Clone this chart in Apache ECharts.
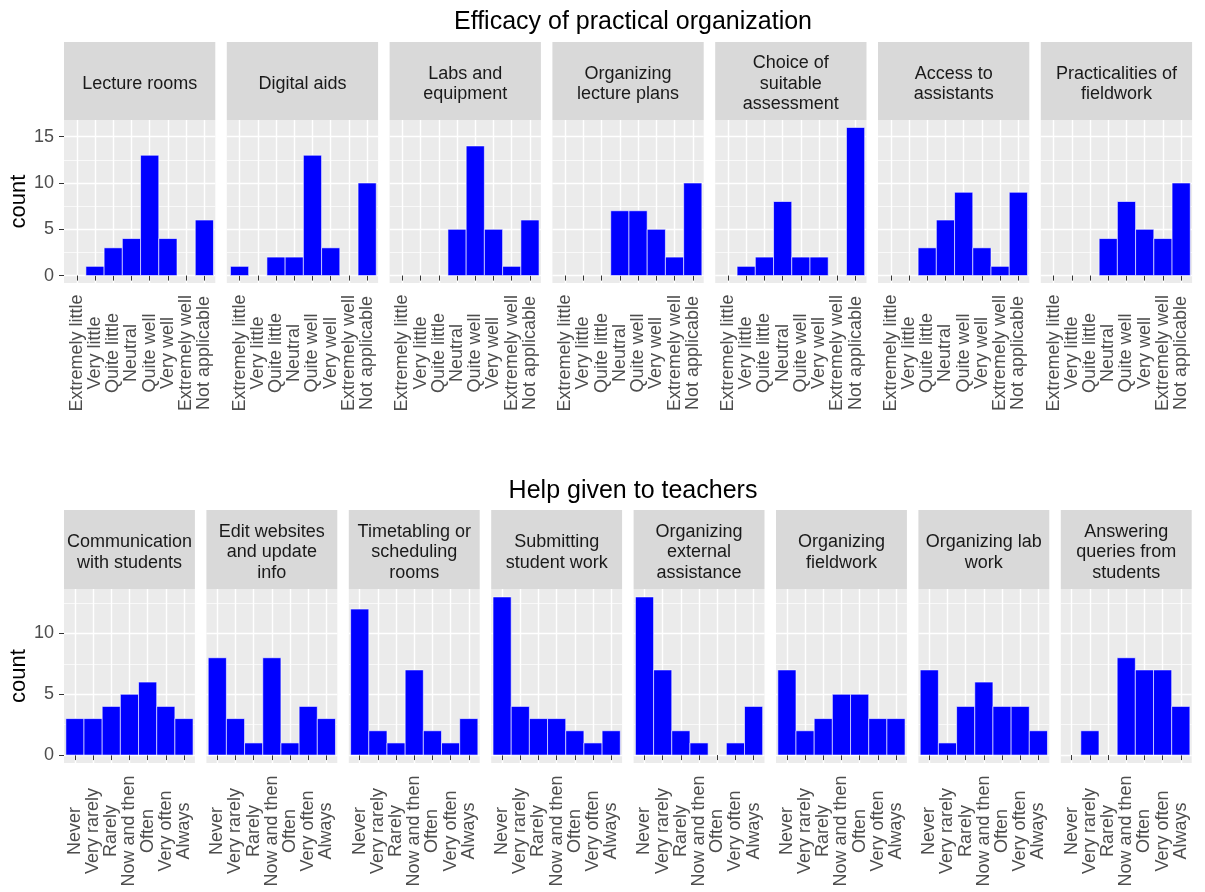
<!DOCTYPE html>
<html>
<head>
<meta charset="utf-8">
<script src="https://cdn.jsdelivr.net/npm/echarts@6/dist/echarts.min.js"></script>
<style>
html,body{margin:0;padding:0;background:#ffffff;}
#chart{width:1205px;height:892px;}
</style>
</head>
<body>
<div id="chart"></div>
<script>
// ---------- data ----------
const efficacyLevels = ['Extremely little', 'Very little', 'Quite little', 'Neutral', 'Quite well', 'Very well', 'Extremely well', 'Not applicable'];
const frequencyLevels = ['Never', 'Very rarely', 'Rarely', 'Now and then', 'Often', 'Very often', 'Always'];

const efficacyTopics = ['Lecture rooms', 'Digital aids', 'Labs and\nequipment', 'Organizing\nlecture plans', 'Choice of\nsuitable\nassessment', 'Access to\nassistants', 'Practicalities of\nfieldwork'];
const helpTopics = ['Communication\nwith students', 'Edit websites\nand update\ninfo', 'Timetabling or\nscheduling\nrooms', 'Submitting\nstudent work', 'Organizing\nexternal\nassistance', 'Organizing\nfieldwork', 'Organizing lab\nwork', 'Answering\nqueries from\nstudents'];

const lectureRooms = [0, 1, 3, 4, 13, 4, 0, 6];
const digitalAids = [1, 0, 2, 2, 13, 3, 0, 10];
const labsEquipment = [0, 0, 0, 5, 14, 5, 1, 6];
const lecturePlans = [0, 0, 0, 7, 7, 5, 2, 10];
const suitableAssessment = [0, 1, 2, 8, 2, 2, 0, 16];
const accessAssistants = [0, 0, 3, 6, 9, 3, 1, 9];
const fieldworkPracticalities = [0, 0, 0, 4, 8, 5, 4, 10];

const communicationStudents = [3, 3, 4, 5, 6, 4, 3];
const editWebsites = [8, 3, 1, 8, 1, 4, 3];
const timetabling = [12, 2, 1, 7, 2, 1, 3];
const submittingWork = [13, 4, 3, 3, 2, 1, 2];
const externalAssistance = [13, 7, 2, 1, 0, 1, 4];
const organizingFieldwork = [7, 2, 3, 5, 5, 3, 3];
const organizingLabWork = [7, 1, 4, 6, 4, 4, 2];
const answeringQueries = [0, 2, 0, 8, 7, 7, 4];

const efficacyTicks = [0, 5, 10, 15];
const helpTicks = [0, 5, 10];
const minorTicks = [2.5, 7.5, 12.5];

// ---------- layout ----------
const FONT = '"Liberation Sans", Arial, sans-serif';
const rows = [
  {
    title: 'Efficacy of practical organization', titleY: 5,
    topics: efficacyTopics,
    values: [lectureRooms, digitalAids, labsEquipment, lecturePlans, suitableAssessment, accessAssistants, fieldworkPracticalities],
    levels: efficacyLevels, yTicks: efficacyTicks,
    yMin: -0.8, yMax: 16.8, xMin: 0.3, xMax: 8.6,
    stripTop: 42, panelTop: 120, panelBottom: 283,
    left: 64, width: 151.3, step: 162.8, labelMargin: 70
  },
  {
    title: 'Help given to teachers', titleY: 474,
    topics: helpTopics,
    values: [communicationStudents, editWebsites, timetabling, submittingWork, externalAssistance, organizingFieldwork, organizingLabWork, answeringQueries],
    levels: frequencyLevels, yTicks: helpTicks,
    yMin: -0.65, yMax: 13.65, xMin: 0.4, xMax: 7.6,
    stripTop: 510, panelTop: 589, panelBottom: 763,
    left: 64, width: 130.9, step: 142.4, labelMargin: 68
  }
];

const grid = [], xAxis = [], yAxis = [], series = [], graphic = [], title = [];

function renderBar(params, api) {
  const x = api.value(0), y = api.value(1);
  if (!y) return null;
  const p0 = api.coord([x - 0.5, 0]);
  const p1 = api.coord([x + 0.5, y]);
  return {
    type: 'rect',
    shape: { x: p0[0], y: p1[1], width: p1[0] - p0[0], height: p0[1] - p1[1] },
    style: { fill: '#0000FF', stroke: '#FFFFFF', lineWidth: 0.6 }
  };
}

rows.forEach((row) => {
  const ticks = row.levels.map((_, i) => i + 1);
  title.push({
    text: row.title, left: 628, top: row.titleY, textAlign: 'center',
    textStyle: { fontFamily: FONT, fontSize: 25, fontWeight: 'normal', color: '#000000' }
  });
  row.values.forEach((vals, p) => {
    const gi = grid.length;
    const left = row.left + p * row.step;
    grid.push({
      left: left, top: row.panelTop, width: row.width, height: row.panelBottom - row.panelTop,
      show: true, backgroundColor: '#EBEBEB', borderWidth: 0, containLabel: false
    });
    // strip
    graphic.push({
      type: 'rect', silent: true,
      shape: { x: left, y: row.stripTop, width: row.width, height: row.panelTop - row.stripTop },
      style: { fill: '#D9D9D9' }
    });
    graphic.push({
      type: 'text', silent: true,
      style: {
        text: row.topics[p], x: left + row.width / 2, y: (row.stripTop + row.panelTop) / 2 + 3,
        align: 'center', verticalAlign: 'middle', fontSize: 18, fontFamily: FONT,
        fill: '#1A1A1A', lineHeight: 20.5
      }
    });
    xAxis.push({
      type: 'value', gridIndex: gi, min: row.xMin, max: row.xMax,
      axisLine: { show: false },
      axisTick: { show: true, customValues: ticks, length: 5, lineStyle: { color: '#333333', width: 1 } },
      axisLabel: {
        show: true, customValues: ticks, rotate: 90, align: 'center', verticalAlign: 'middle',
        margin: row.labelMargin, fontSize: 18, fontFamily: FONT, color: '#4D4D4D',
        formatter: (v) => row.levels[Math.round(v) - 1] || ''
      },
      splitLine: { show: true, lineStyle: { color: '#FFFFFF', width: 1.4 } }
    });
    const first = p === 0;
    // minor y grid
    yAxis.push({
      type: 'value', gridIndex: gi, min: row.yMin, max: row.yMax, position: 'left',
      axisLine: { show: false },
      axisTick: { show: false, customValues: minorTicks },
      axisLabel: { show: false, customValues: minorTicks },
      splitLine: { show: true, lineStyle: { color: '#FFFFFF', width: 0.7 } }
    });
    const majorIndex = yAxis.length;
    yAxis.push({
      type: 'value', gridIndex: gi, min: row.yMin, max: row.yMax, position: 'left',
      name: first ? 'count' : '', nameLocation: 'middle', nameGap: 31, nameRotate: 90,
      nameTextStyle: { fontFamily: FONT, fontSize: 22, color: '#000000' },
      axisLine: { show: false },
      axisTick: { show: first, customValues: row.yTicks, length: 5, lineStyle: { color: '#333333', width: 1 } },
      axisLabel: { show: first, customValues: row.yTicks, margin: 10, fontSize: 18, fontFamily: FONT, color: '#4D4D4D' },
      splitLine: { show: true, lineStyle: { color: '#FFFFFF', width: 1.4 } }
    });
    series.push({
      type: 'custom', xAxisIndex: gi, yAxisIndex: majorIndex,
      renderItem: renderBar, silent: true, animation: false,
      data: vals.map((v, i) => [ticks[i], v])
    });
  });
});

const chart = echarts.init(document.getElementById('chart'), null, { renderer: 'canvas' });
chart.setOption({
  animation: false,
  backgroundColor: '#FFFFFF',
  title: title,
  grid: grid,
  xAxis: xAxis,
  yAxis: yAxis,
  series: series,
  graphic: graphic
});
</script>
</body>
</html>
